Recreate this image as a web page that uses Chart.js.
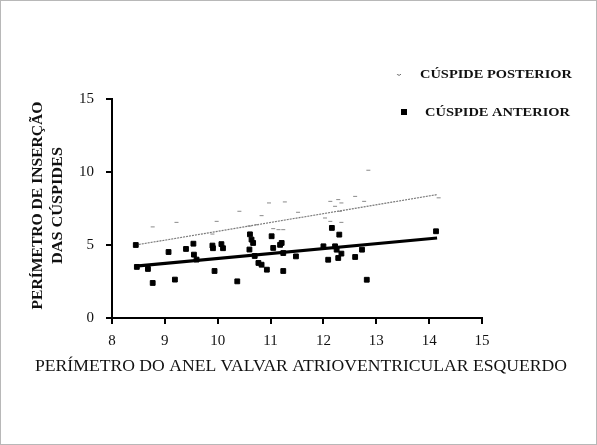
<!DOCTYPE html>
<html>
<head>
<meta charset="utf-8">
<script src="https://cdn.jsdelivr.net/npm/chart.js@4/dist/chart.umd.min.js"></script>
<style>
  html, body { margin: 0; padding: 0; background: #fff; }
  #c { display: block; }
</style>
</head>
<body>
<canvas id="c" width="597" height="445"></canvas>
<script>
// Perímetro do anel valvar (x) vs perímetro de inserção das cúspides (y)
const xTicks = [8, 9, 10, 11, 12, 13, 14, 15];
const yTicks = [0, 5, 10, 15];

const anteriorX = [8.45, 8.47, 8.68, 8.77, 9.07, 9.19, 9.40, 9.54, 9.55, 9.60, 9.90, 9.91, 9.94, 10.07, 10.10, 10.37,
  10.61, 10.64, 10.67, 10.60, 10.70, 10.77, 10.83, 10.93, 11.02, 11.05, 11.18, 11.24, 11.21, 11.24, 11.48,
  12.00, 12.09, 12.16, 12.22, 12.25, 12.28, 12.30, 12.34, 12.60, 12.73, 12.82, 14.13];
const anteriorY = [5.00, 3.50, 3.36, 2.40, 4.52, 2.63, 4.73, 5.09, 4.34, 4.00, 4.96, 4.78, 3.22, 5.06, 4.78, 2.51,
  5.73, 5.37, 5.14, 4.69, 4.25, 3.77, 3.65, 3.31, 5.60, 4.80, 5.01, 3.22, 5.14, 4.45, 4.22,
  4.91, 3.99, 6.17, 4.91, 4.68, 4.11, 5.71, 4.41, 4.18, 4.68, 2.62, 5.94];

const posteriorX = [8.77, 9.22, 9.90, 9.98, 10.41, 10.60, 10.74, 10.83, 10.97, 11.05, 11.15, 11.24, 11.27, 11.52,
  12.03, 12.13, 12.13, 12.22, 12.28, 12.31, 12.34, 12.34, 12.60, 12.77, 12.85, 14.18];
const posteriorY = [6.24, 6.55, 5.75, 6.62, 7.31, 6.30, 6.39, 7.01, 7.88, 6.12, 6.05, 6.05, 7.95, 7.24,
  6.85, 7.99, 6.62, 7.65, 8.11, 7.31, 7.88, 6.55, 8.33, 7.99, 10.12, 8.23];

// Retas de regressão (extremos)
const posteriorFitX = [8.45, 14.15];
const posteriorFitY = [5.00, 8.45];
const anteriorFitX = [8.45, 14.15];
const anteriorFitY = [3.55, 5.48];

const xTitle = 'PERÍMETRO DO ANEL VALVAR ATRIOVENTRICULAR ESQUERDO';
const yTitle = ['PERÍMETRO DE INSERÇÃO', 'DAS CÚSPIDES'];
const legendPosterior = 'CÚSPIDE POSTERIOR';
const legendAnterior = 'CÚSPIDE ANTERIOR';

const pts = (xs, ys) => xs.map((x, i) => ({ x: x, y: ys[i] }));
const SERIF = '"Liberation Serif", "DejaVu Serif", serif';

// draws text stretched horizontally to a given width, anchored at (x, y)
function fitText(ctx, text, x, y, width, align) {
  const w = ctx.measureText(text).width;
  const k = width / w;
  ctx.save();
  ctx.translate(x, y);
  ctx.scale(k, 1);
  ctx.textAlign = align;
  ctx.fillText(text, 0, 0);
  ctx.restore();
}

const decor = {
  id: 'decor',
  afterDraw(chart) {
    const ctx = chart.ctx;
    const area = chart.chartArea;
    ctx.save();
    // page frame
    ctx.strokeStyle = '#b8b8b8';
    ctx.lineWidth = 1;
    ctx.strokeRect(0.5, 0.5, 596, 444);

    ctx.fillStyle = '#111';
    ctx.textBaseline = 'middle';
    // x title
    ctx.font = '16px ' + SERIF;
    fitText(ctx, xTitle, 301, 367, 532, 'center');

    // y title (rotated, two lines)
    ctx.font = 'bold 15px ' + SERIF;
    const cy = (area.top + area.bottom) / 2 - 3;
    ctx.translate(38, cy);
    ctx.rotate(-Math.PI / 2);
    fitText(ctx, yTitle[0], 0, 0, 208, 'center');
    fitText(ctx, yTitle[1], 0, 20, 117, 'center');
    ctx.setTransform(1, 0, 0, 1, 0, 0);

    // legend
    ctx.font = 'bold 13px ' + SERIF;
    fitText(ctx, legendPosterior, 420, 75, 152, 'left');
    fitText(ctx, legendAnterior, 425, 113, 145, 'left');
    ctx.strokeStyle = '#666';
    ctx.lineWidth = 1;
    ctx.beginPath();
    ctx.arc(399, 73, 2.2, 0.15 * Math.PI, 0.85 * Math.PI);
    ctx.stroke();
    ctx.fillStyle = '#000';
    ctx.fillRect(401, 109, 6, 6);
    ctx.restore();
  }
};

new Chart(document.getElementById('c'), {
  type: 'scatter',
  data: {
    datasets: [
      {
        label: legendPosterior,
        data: pts(posteriorX, posteriorY),
        pointStyle: 'line',
        pointRadius: 2,
        borderColor: '#8a8a8a',
        backgroundColor: '#8a8a8a',
        borderWidth: 1,
        pointHoverRadius: 2
      },
      {
        label: legendAnterior,
        data: pts(anteriorX, anteriorY),
        pointStyle: 'rect',
        pointRadius: 3.4,
        borderColor: '#000',
        backgroundColor: '#000',
        borderWidth: 1
      },
      {
        type: 'line',
        label: 'fit posterior',
        data: pts(posteriorFitX, posteriorFitY),
        borderColor: '#7a7a7a',
        borderWidth: 1.2,
        borderDash: [2, 1],
        pointRadius: 0,
        fill: false
      },
      {
        type: 'line',
        label: 'fit anterior',
        data: pts(anteriorFitX, anteriorFitY),
        borderColor: '#000',
        borderWidth: 3.2,
        pointRadius: 0,
        fill: false
      }
    ]
  },
  options: {
    responsive: false,
    animation: false,
    events: [],
    layout: { padding: { left: 0, top: 99, right: 115, bottom: 0 } },
    plugins: { legend: { display: false }, tooltip: { enabled: false } },
    scales: {
      x: {
        type: 'linear',
        min: 8, max: 15,
        afterBuildTicks: s => { s.ticks = xTicks.map(v => ({ value: v })); },
        afterFit: s => { s.height = 127; },
        border: { display: true, color: '#000', width: 2 },
        grid: { display: true, drawOnChartArea: false, drawTicks: true, tickLength: 6, color: '#000', lineWidth: 2 },
        ticks: { color: '#111', font: { family: SERIF, size: 15 }, padding: 8, maxRotation: 0 }
      },
      y: {
        type: 'linear',
        min: 0, max: 15,
        afterBuildTicks: s => { s.ticks = yTicks.map(v => ({ value: v })); },
        afterFit: s => { s.width = 112; },
        border: { display: true, color: '#000', width: 2 },
        grid: { display: true, drawOnChartArea: false, drawTicks: true, tickLength: 6, color: '#000', lineWidth: 2 },
        ticks: { color: '#111', font: { family: SERIF, size: 15 }, padding: 12 }
      }
    }
  },
  plugins: [decor]
});
</script>
</body>
</html>
